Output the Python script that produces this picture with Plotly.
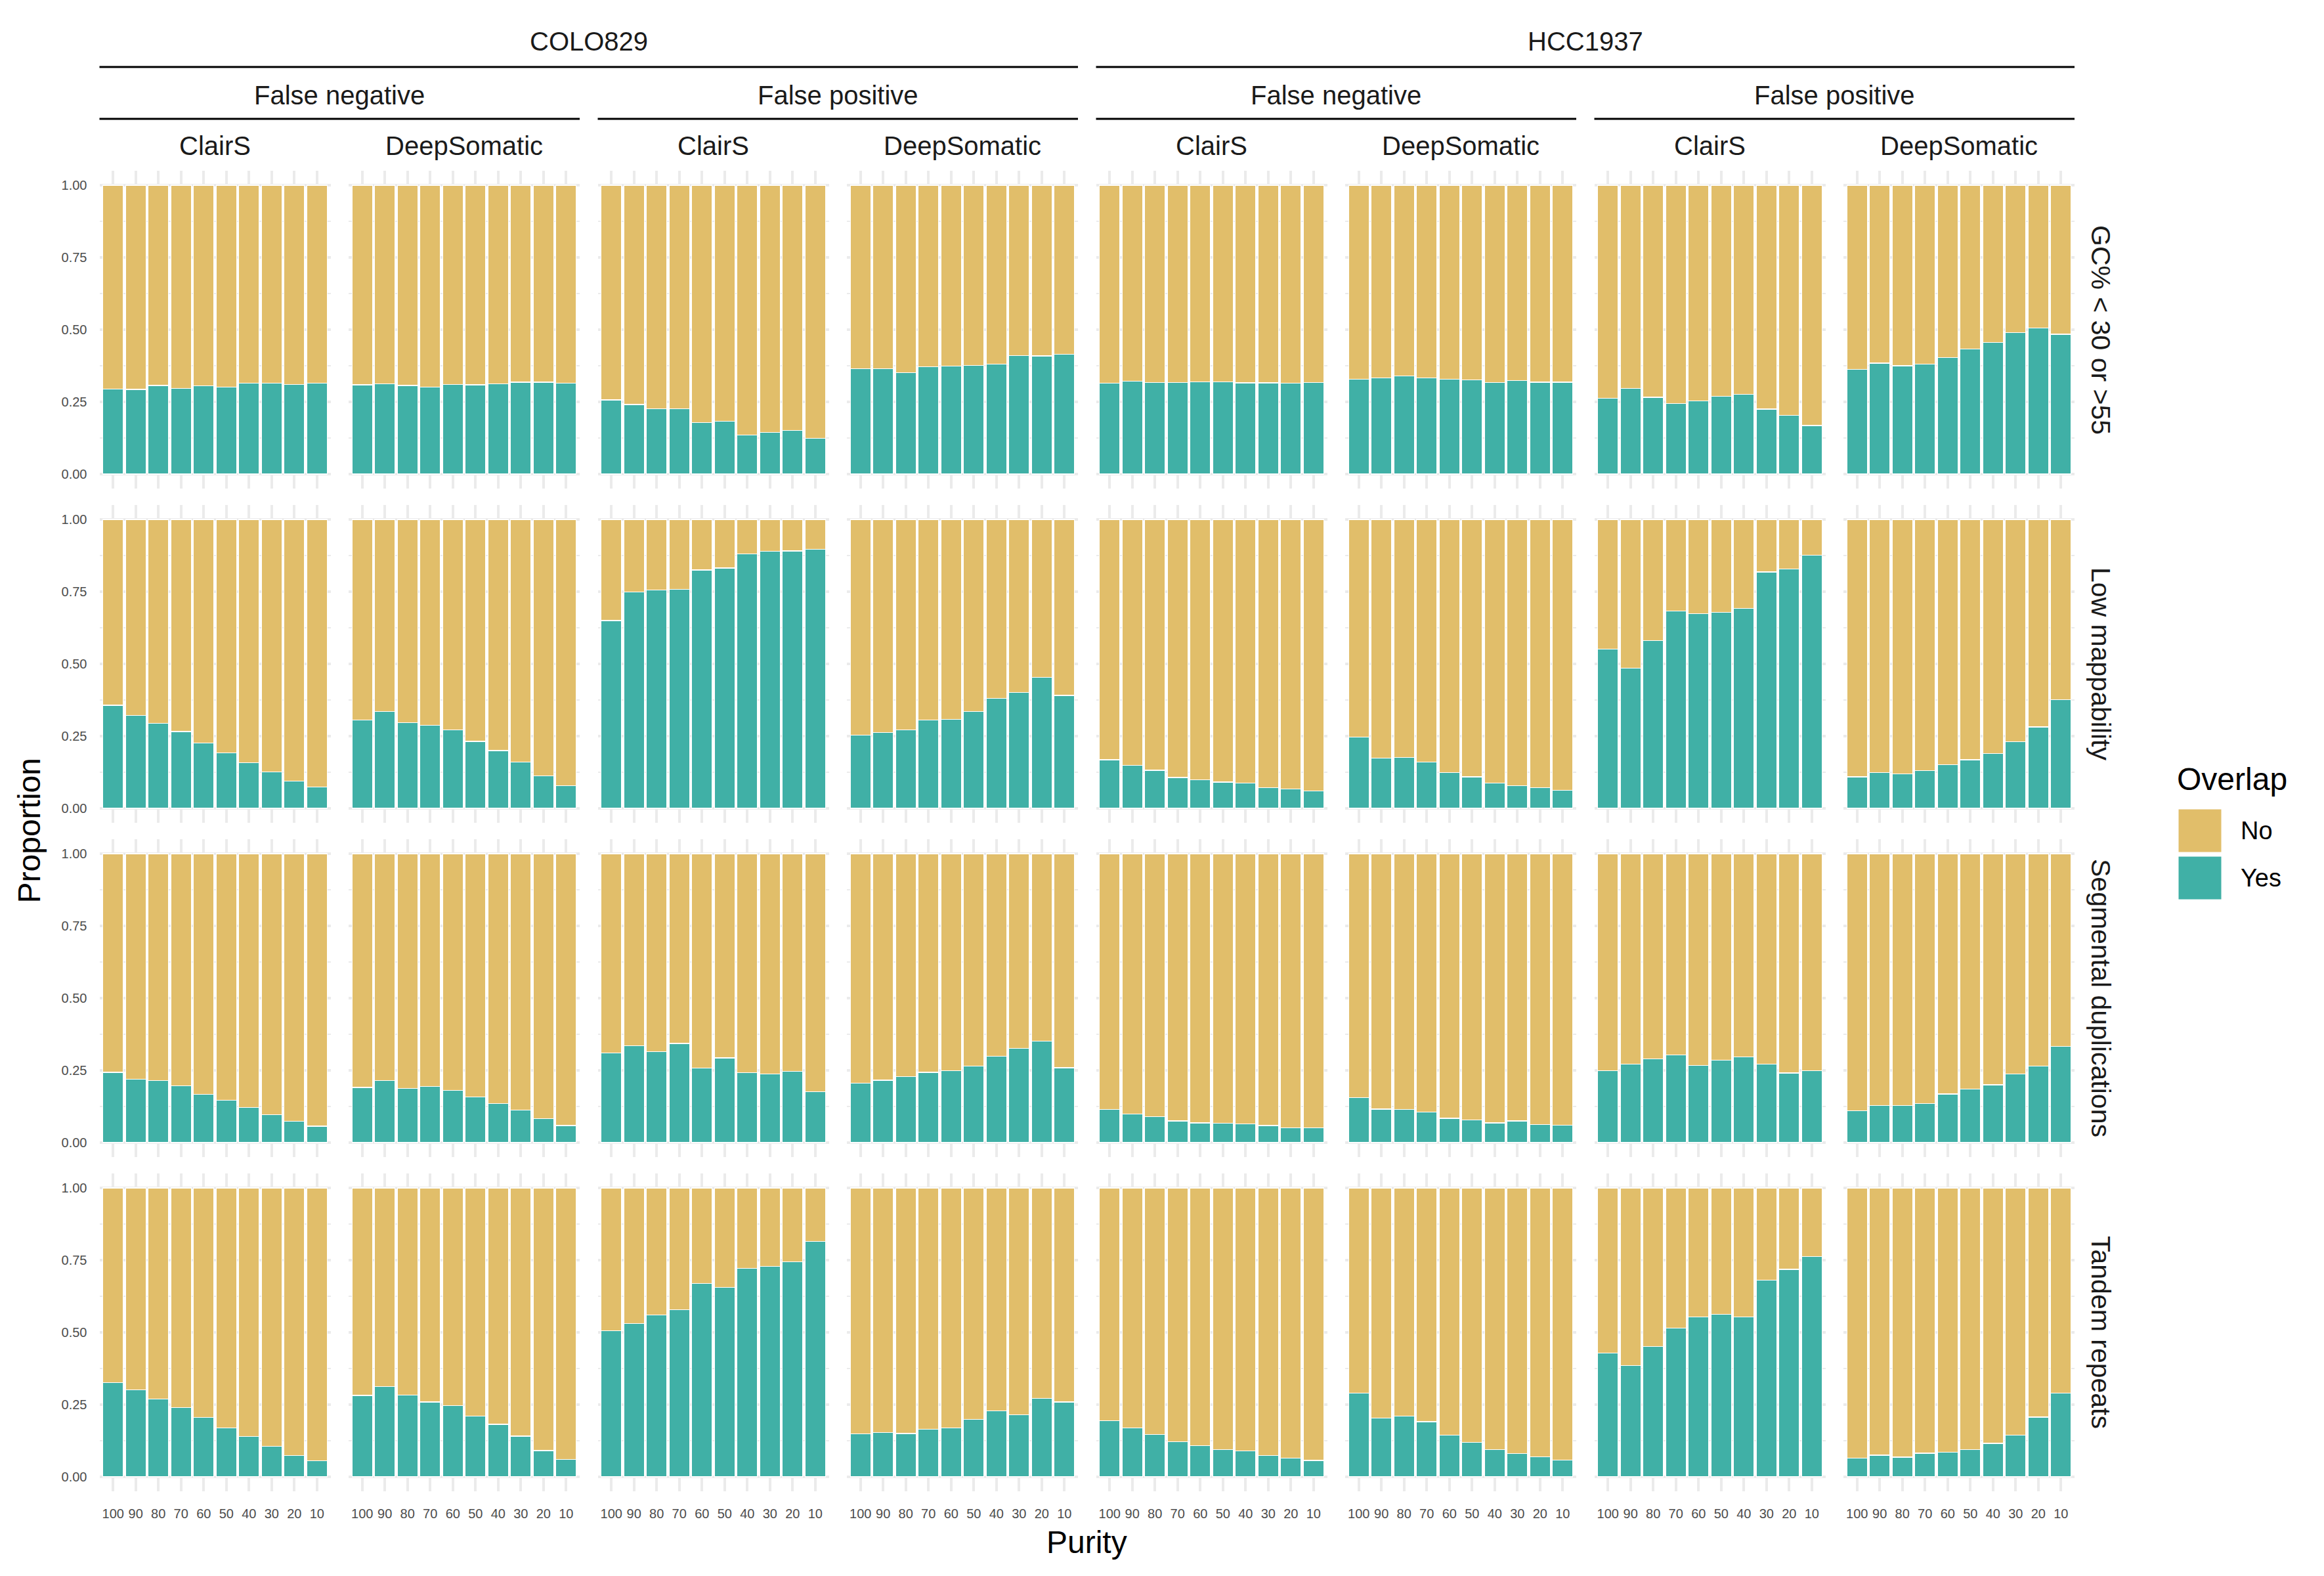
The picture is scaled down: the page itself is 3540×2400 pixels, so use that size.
import plotly.graph_objects as go

# ---------------- data ----------------
purity = ["100", "90", "80", "70", "60", "50", "40", "30", "20", "10"]
samples = ["COLO829", "HCC1937"]
error_types = ["False negative", "False positive"]
callers = ["ClairS", "DeepSomatic"]
regions = ["GC% &lt; 30 or &gt;55", "Low mappability", "Segmental duplications", "Tandem repeats"]
overlap_levels = ["No", "Yes"]

# Proportion of "Yes" overlap; panel order: COLO829 FN ClairS, FN DeepSomatic, FP ClairS, FP DeepSomatic,
# HCC1937 FN ClairS, FN DeepSomatic, FP ClairS, FP DeepSomatic
yes_gc = [
    [0.294, 0.293, 0.307, 0.297, 0.306, 0.302, 0.315, 0.315, 0.311, 0.314],
    [0.309, 0.313, 0.307, 0.302, 0.310, 0.309, 0.313, 0.318, 0.318, 0.315],
    [0.257, 0.241, 0.226, 0.226, 0.179, 0.183, 0.135, 0.144, 0.151, 0.123],
    [0.365, 0.364, 0.351, 0.372, 0.374, 0.376, 0.380, 0.410, 0.409, 0.415],
    [0.314, 0.321, 0.317, 0.317, 0.319, 0.319, 0.316, 0.316, 0.315, 0.317],
    [0.328, 0.333, 0.339, 0.333, 0.328, 0.326, 0.317, 0.324, 0.318, 0.318],
    [0.262, 0.297, 0.266, 0.245, 0.254, 0.269, 0.276, 0.225, 0.203, 0.168],
    [0.362, 0.384, 0.375, 0.381, 0.403, 0.433, 0.455, 0.489, 0.506, 0.484],
]
yes_lowmap = [
    [0.357, 0.321, 0.295, 0.266, 0.227, 0.192, 0.158, 0.126, 0.094, 0.074],
    [0.305, 0.336, 0.297, 0.287, 0.272, 0.232, 0.200, 0.161, 0.113, 0.078],
    [0.650, 0.748, 0.755, 0.758, 0.825, 0.832, 0.881, 0.889, 0.891, 0.896],
    [0.253, 0.262, 0.272, 0.305, 0.308, 0.336, 0.381, 0.401, 0.453, 0.391],
    [0.168, 0.149, 0.132, 0.107, 0.098, 0.091, 0.088, 0.072, 0.067, 0.061],
    [0.247, 0.174, 0.177, 0.161, 0.124, 0.109, 0.088, 0.078, 0.071, 0.062],
    [0.551, 0.486, 0.580, 0.683, 0.674, 0.679, 0.692, 0.818, 0.828, 0.876],
    [0.109, 0.123, 0.119, 0.130, 0.152, 0.168, 0.190, 0.230, 0.282, 0.376],
]
yes_segdup = [
    [0.243, 0.220, 0.214, 0.197, 0.167, 0.146, 0.122, 0.096, 0.074, 0.057],
    [0.191, 0.214, 0.188, 0.194, 0.180, 0.158, 0.136, 0.112, 0.083, 0.059],
    [0.310, 0.336, 0.314, 0.343, 0.258, 0.293, 0.242, 0.238, 0.246, 0.177],
    [0.206, 0.216, 0.228, 0.243, 0.249, 0.264, 0.299, 0.326, 0.351, 0.259],
    [0.114, 0.099, 0.090, 0.075, 0.068, 0.067, 0.064, 0.059, 0.052, 0.052],
    [0.155, 0.116, 0.114, 0.106, 0.084, 0.078, 0.068, 0.075, 0.062, 0.061],
    [0.248, 0.271, 0.290, 0.303, 0.267, 0.286, 0.297, 0.271, 0.241, 0.248],
    [0.110, 0.128, 0.128, 0.135, 0.168, 0.186, 0.200, 0.238, 0.264, 0.333],
]
yes_tandem = [
    [0.326, 0.302, 0.270, 0.240, 0.206, 0.170, 0.140, 0.105, 0.073, 0.055],
    [0.282, 0.312, 0.283, 0.259, 0.247, 0.211, 0.182, 0.141, 0.091, 0.060],
    [0.505, 0.531, 0.561, 0.578, 0.669, 0.656, 0.722, 0.729, 0.744, 0.815],
    [0.148, 0.154, 0.150, 0.164, 0.169, 0.199, 0.228, 0.215, 0.272, 0.259],
    [0.194, 0.169, 0.146, 0.122, 0.108, 0.095, 0.089, 0.073, 0.064, 0.057],
    [0.290, 0.203, 0.210, 0.191, 0.144, 0.119, 0.094, 0.081, 0.070, 0.058],
    [0.429, 0.386, 0.452, 0.515, 0.554, 0.562, 0.554, 0.680, 0.718, 0.762],
    [0.064, 0.075, 0.068, 0.082, 0.086, 0.095, 0.116, 0.144, 0.207, 0.289],
]
yes_by_region = [yes_gc, yes_lowmap, yes_segdup, yes_tandem]

ytick_vals = [0, 0.25, 0.5, 0.75, 1.0]
ytick_text = ["0.00", "0.25", "0.50", "0.75", "1.00"]

# ---------------- style / layout ----------------
W, H = 3540, 2400
PAGE_OFF = 8  # default body margin of the html page
COL_NO = "#E1BE6A"
COL_YES = "#40B0A6"
GRID = "#EBEBEB"
FONT = "Liberation Sans, Arial, Helvetica, sans-serif"

panel_w, panel_h = 352, 484
col_left = [151.5 + i * 379.5 for i in range(8)]
row_top = [260 + r * 509 for r in range(4)]

def px(x):
    return (x - PAGE_OFF) / W

def py(y):
    return 1 - (y - PAGE_OFF) / H

fig = go.Figure()
layout = dict(
    width=W, height=H,
    margin=dict(l=0, r=0, t=0, b=0),
    paper_bgcolor="white", plot_bgcolor="white",
    barmode="stack", showlegend=False,
    font=dict(family=FONT, color="#1A1A1A"),
)

for r in range(4):
    for c in range(8):
        k = r * 8 + c + 1
        xa = "x" if k == 1 else f"x{k}"
        ya = "y" if k == 1 else f"y{k}"
        yes = yes_by_region[r][c]
        no = [round(1 - v, 4) for v in yes]
        for vals, col, name in [(yes, COL_YES, "Yes"), (no, COL_NO, "No")]:
            fig.add_trace(go.Bar(
                x=purity, y=vals, name=name, width=0.9,
                marker=dict(color=col, line=dict(color="white", width=1.2)),
                xaxis=xa, yaxis=ya, showlegend=False, hoverinfo="skip",
            ))
        xkey = "xaxis" if k == 1 else f"xaxis{k}"
        ykey = "yaxis" if k == 1 else f"yaxis{k}"
        l = col_left[c]
        t = row_top[r]
        layout[xkey] = dict(
            domain=[px(l), px(l + panel_w)], anchor=ya,
            type="category", categoryorder="array", categoryarray=purity,
            range=[-0.6, 9.6], fixedrange=True,
            showgrid=True, gridcolor=GRID, gridwidth=4,
            zeroline=False, showline=False, ticks="",
            showticklabels=(r == 3), automargin=False,
            tickfont=dict(size=20, color="#4D4D4D", family=FONT),
            ticklabelstandoff=20,
        )
        layout[ykey] = dict(
            domain=[py(t + panel_h), py(t)], anchor=xa,
            range=[-0.05, 1.05], fixedrange=True,
            tickmode="array", tickvals=ytick_vals, ticktext=ytick_text,
            showgrid=True, gridcolor=GRID, gridwidth=4,
            minor=dict(tickvals=[0.125, 0.375, 0.625, 0.875], showgrid=True,
                       gridcolor=GRID, gridwidth=2, ticks=""),
            zeroline=False, showline=False, ticks="",
            showticklabels=(c == 0), automargin=False,
            tickfont=dict(size=20, color="#4D4D4D", family=FONT),
            ticklabelstandoff=18,
        )

annotations = []
shapes = []
STRIP = 40

# top strips: sample
for s_i, s in enumerate(samples):
    x0 = col_left[s_i * 4]
    x1 = col_left[s_i * 4 + 3] + panel_w
    annotations.append(dict(text=s, x=px((x0 + x1) / 2), y=py(63), xref="paper", yref="paper",
                            showarrow=False, xanchor="center", yanchor="middle",
                            font=dict(size=STRIP, color="#1A1A1A", family=FONT)))
    shapes.append(dict(type="line", xref="paper", yref="paper", x0=px(x0), x1=px(x1),
                       y0=py(102), y1=py(102), line=dict(color="black", width=3)))
    for e_i, e in enumerate(error_types):
        ci = s_i * 4 + e_i * 2
        ex0 = col_left[ci]
        ex1 = col_left[ci + 1] + panel_w
        annotations.append(dict(text=e, x=px((ex0 + ex1) / 2), y=py(145), xref="paper", yref="paper",
                                showarrow=False, xanchor="center", yanchor="middle",
                                font=dict(size=STRIP, color="#1A1A1A", family=FONT)))
        shapes.append(dict(type="line", xref="paper", yref="paper", x0=px(ex0), x1=px(ex1),
                           y0=py(181), y1=py(181), line=dict(color="black", width=3)))
        for k_i, cl in enumerate(callers):
            cc = ci + k_i
            annotations.append(dict(text=cl, x=px(col_left[cc] + panel_w / 2), y=py(222),
                                    xref="paper", yref="paper", showarrow=False,
                                    xanchor="center", yanchor="middle",
                                    font=dict(size=STRIP, color="#1A1A1A", family=FONT)))

# right strips: regions
for r, reg in enumerate(regions):
    annotations.append(dict(text=reg, x=px(3200), y=py(row_top[r] + panel_h / 2),
                            xref="paper", yref="paper", showarrow=False, textangle=90,
                            xanchor="center", yanchor="middle",
                            font=dict(size=STRIP + 1, color="#1A1A1A", family=FONT)))

# axis titles
annotations.append(dict(text="Proportion", x=px(44), y=py((row_top[0] + row_top[3] + panel_h) / 2),
                        xref="paper", yref="paper", showarrow=False, textangle=-90,
                        xanchor="center", yanchor="middle",
                        font=dict(size=48, color="black", family=FONT)))
annotations.append(dict(text="Purity", x=px((col_left[0] + col_left[7] + panel_w) / 2), y=py(2348),
                        xref="paper", yref="paper", showarrow=False,
                        xanchor="center", yanchor="middle",
                        font=dict(size=48, color="black", family=FONT)))

# legend (drawn manually to match key size)
annotations.append(dict(text="Overlap", x=px(3314), y=py(1186), xref="paper", yref="paper",
                        showarrow=False, xanchor="left", yanchor="middle",
                        font=dict(size=48, color="black", family=FONT)))
legend_cols = {"No": COL_NO, "Yes": COL_YES}
for i, lvl in enumerate(overlap_levels):
    y0 = 1232 + i * 72
    shapes.append(dict(type="rect", xref="paper", yref="paper", x0=px(3318), x1=px(3384),
                       y0=py(y0 + 66), y1=py(y0), fillcolor=legend_cols[lvl],
                       line=dict(color="white", width=1)))
    annotations.append(dict(text=lvl, x=px(3411), y=py(y0 + 33), xref="paper", yref="paper",
                            showarrow=False, xanchor="left", yanchor="middle",
                            font=dict(size=38, color="black", family=FONT)))

layout["annotations"] = annotations
layout["shapes"] = shapes
fig.update_layout(**layout)
fig.write_html("out.html")
